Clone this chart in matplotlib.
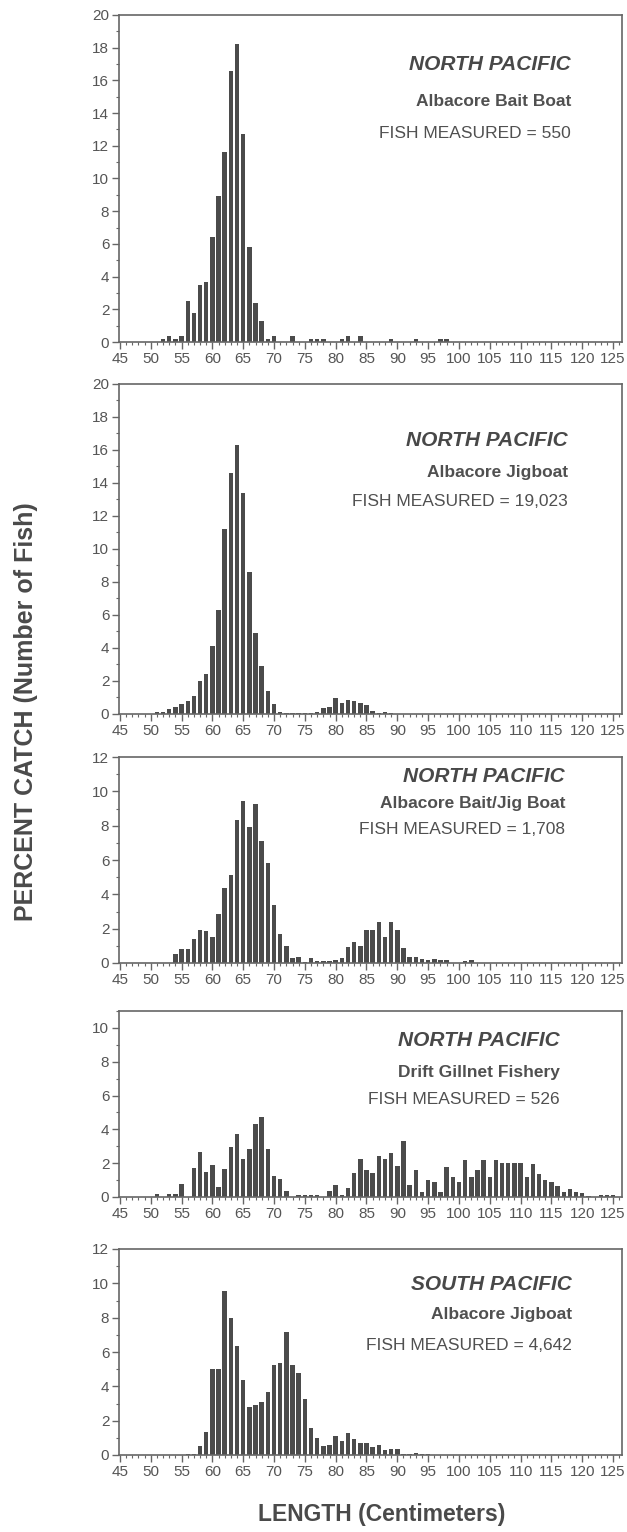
import numpy as np
import matplotlib
matplotlib.use("Agg")
from matplotlib import pyplot as plt
from matplotlib.ticker import MultipleLocator

plt.rcParams['font.family'] = ['Liberation Sans', 'DejaVu Sans']

# length classes (cm), one bar per centimetre
lengths = np.arange(45, 126)

# percent catch per length class, 45..125 cm (rows of 5 cm)
bait_boat = [
    0, 0, 0, 0, 0,
    0, 0, 0.18, 0.36, 0.18,
    0.36, 2.5, 1.8, 3.5, 3.7,
    6.4, 8.9, 11.6, 16.6, 18.2,
    12.7, 5.8, 2.4, 1.3, 0.18,
    0.36, 0, 0, 0.36, 0,
    0, 0.18, 0.18, 0.18, 0,
    0, 0.18, 0.36, 0, 0.36,
    0, 0, 0, 0, 0.18,
    0, 0, 0, 0.18, 0,
    0, 0, 0.18, 0.18, 0,
] + [0] * 26

jigboat = [
    0, 0, 0, 0, 0,
    0, 0.1, 0.1, 0.3, 0.4,
    0.6, 0.8, 1.1, 2.0, 2.4,
    4.1, 6.3, 11.2, 14.6, 16.3,
    13.4, 8.6, 4.9, 2.9, 1.4,
    0.6, 0.15, 0.05, 0.05, 0.05,
    0.05, 0.05, 0.15, 0.35, 0.45,
    0.95, 0.65, 0.85, 0.77, 0.65,
    0.55, 0.2, 0.05, 0.13, 0.05,
    0.03, 0.02, 0, 0, 0,
] + [0] * 31

bait_jig = [
    0, 0, 0, 0, 0,
    0, 0, 0, 0, 0.53,
    0.84, 0.84, 1.42, 1.93, 1.85,
    1.54, 2.85, 4.35, 5.13, 8.32,
    9.45, 7.9, 9.28, 7.13, 5.8,
    3.4, 1.7, 1.0, 0.27, 0.35,
    0.05, 0.3, 0.1, 0.1, 0.1,
    0.2, 0.3, 0.95, 1.2, 1.0,
    1.9, 1.9, 2.4, 1.5, 2.4,
    1.9, 0.9, 0.35, 0.35, 0.25,
    0.2, 0.25, 0.15, 0.2, 0,
    0, 0.1, 0.2, 0, 0,
] + [0] * 21

gillnet = [
    0, 0, 0, 0, 0,
    0, 0.16, 0, 0.16, 0.16,
    0.78, 0, 1.7, 2.68, 1.47,
    1.9, 0.57, 1.68, 2.97, 3.74,
    2.25, 2.86, 4.34, 4.74, 2.86,
    1.27, 1.08, 0.37, 0, 0.12,
    0.12, 0.12, 0.12, 0, 0.35,
    0.72, 0.12, 0.53, 1.43, 2.23,
    1.62, 1.41, 2.43, 2.23, 2.6,
    1.82, 3.33, 0.7, 1.6, 0.31,
    1.02, 0.9, 0.29, 1.8, 1.21,
    0.88, 2.19, 1.2, 1.58, 2.19,
    1.2, 2.19, 2.0, 2.0, 2.0,
    2.0, 1.2, 1.98, 1.37, 0.98,
    0.88, 0.67, 0.27, 0.45, 0.27,
    0.25, 0.05, 0, 0.1, 0.1,
    0.1,
]

south_jig = [
    0, 0, 0, 0, 0,
    0, 0, 0, 0, 0,
    0, 0.05, 0.05, 0.53, 1.34,
    5.0, 5.0, 9.57, 7.96, 6.36,
    4.38, 2.78, 2.9, 3.09, 3.66,
    5.27, 5.35, 7.14, 5.27, 4.77,
    3.25, 1.6, 1.01, 0.5, 0.58,
    1.11, 0.82, 1.3, 0.91, 0.68,
    0.68, 0.47, 0.56, 0.29, 0.37,
    0.37, 0.08, 0.05, 0.1, 0.05,
    0.05,
] + [0] * 30

regions = ['NORTH PACIFIC', 'NORTH PACIFIC', 'NORTH PACIFIC', 'NORTH PACIFIC', 'SOUTH PACIFIC']
fisheries = ['Albacore Bait Boat', 'Albacore Jigboat', 'Albacore Bait/Jig Boat',
             'Drift Gillnet Fishery', 'Albacore Jigboat']
measured = ['550', '19,023', '1,708', '526', '4,642']
series = [bait_boat, jigboat, bait_jig, gillnet, south_jig]
y_tops = [20, 20, 12, 11, 12]

# panel boxes in figure pixels: (top, bottom), and text anchors
W, H = 627, 1532
boxes = [(15, 342), (384, 714), (757, 963), (1011, 1197), (1249, 1455)]
text_x = [571, 568, 565, 560, 572]
text_y = [(65, 101, 133), (440, 472, 502), (776, 803, 830), (1041, 1073, 1100), (1284, 1315, 1345)]

bar_col = '#4b4b4b'
txt_col = '#555555'
ax_col = '#666666'

fig = plt.figure(figsize=(W / 100, H / 100), dpi=100)

for i in range(5):
    top, bot = boxes[i]
    ax = fig.add_axes([119 / W, 1 - bot / H, 503 / W, (bot - top) / H])
    ax.bar(lengths, series[i], width=0.72, color=bar_col, linewidth=0)
    ax.set_xlim(44.85, 126.45)
    ax.set_ylim(0, y_tops[i])
    ax.xaxis.set_major_locator(MultipleLocator(5))
    ax.xaxis.set_minor_locator(MultipleLocator(1))
    ax.yaxis.set_major_locator(MultipleLocator(2))
    ax.yaxis.set_minor_locator(MultipleLocator(1))
    ax.tick_params(which='major', direction='out', length=5, width=1, color=ax_col,
                   labelsize=11, labelcolor=txt_col, pad=2)
    ax.tick_params(which='minor', direction='out', length=2.5, width=0.8, color=ax_col)
    for s in ax.spines.values():
        s.set_color(ax_col)
        s.set_linewidth(1.2)

    ty = text_y[i]
    fig.text(text_x[i] / W, 1 - ty[0] / H, regions[i], ha='right', va='center',
             fontsize=15, fontweight='bold', fontstyle='italic', color='#484848')
    fig.text(text_x[i] / W, 1 - ty[1] / H, fisheries[i], ha='right', va='center',
             fontsize=12.5, fontweight='bold', color='#505050')
    fig.text(text_x[i] / W, 1 - ty[2] / H, 'FISH MEASURED = ' + measured[i], ha='right',
             va='center', fontsize=12.5, color='#505050')

fig.text(26 / W, 1 - 712 / H, 'PERCENT CATCH (Number of Fish)', rotation=90,
         ha='center', va='center', fontsize=18, fontweight='bold', color='#4a4a4a')
fig.text(382 / W, 1 - 1515 / H, 'LENGTH (Centimeters)', ha='center', va='center',
         fontsize=16.5, fontweight='bold', color='#4a4a4a')

plt.savefig('out.png', dpi=100)
